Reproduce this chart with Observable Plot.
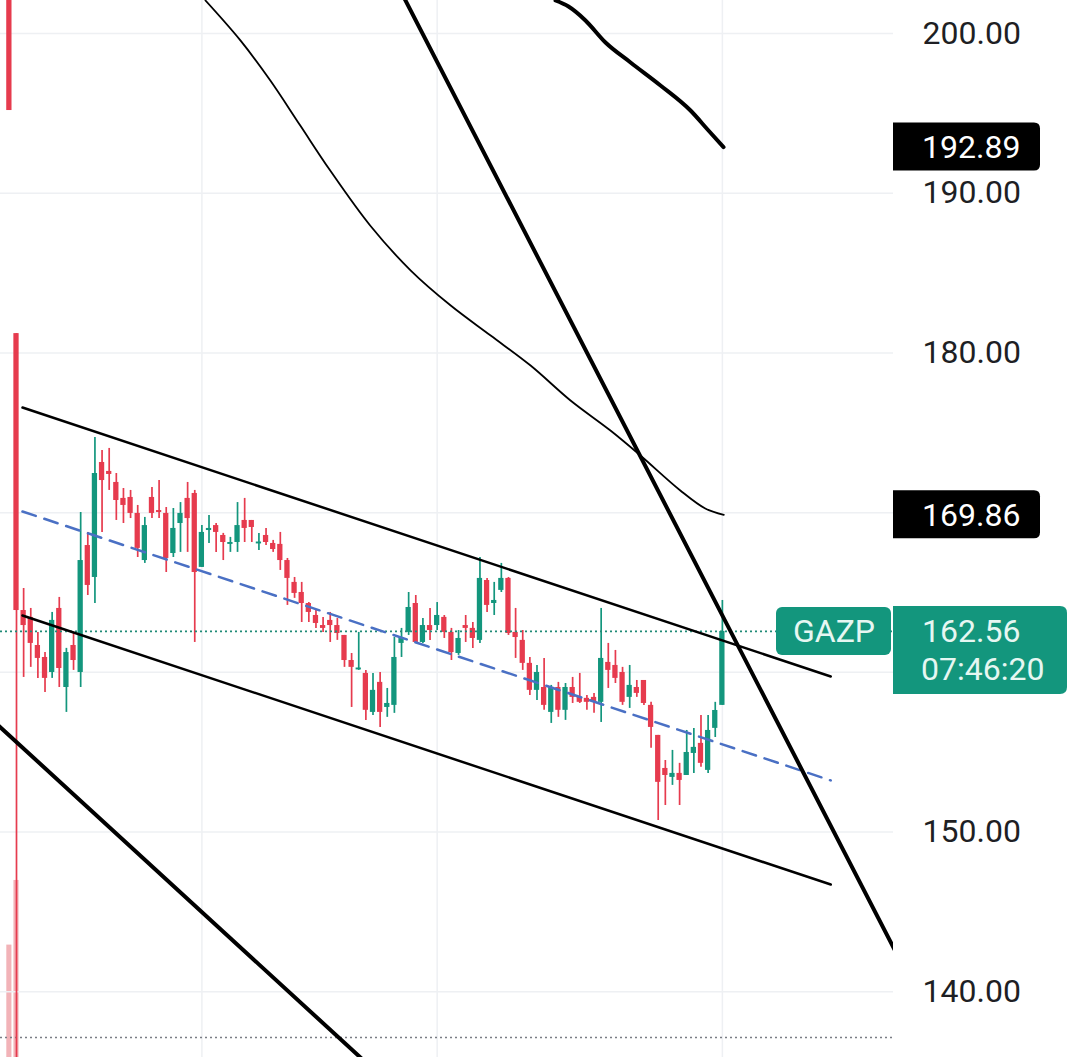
<!DOCTYPE html>
<html><head><meta charset="utf-8">
<script src="https://cdn.jsdelivr.net/npm/d3@7"></script>
<script src="https://cdn.jsdelivr.net/npm/@observablehq/plot@0.6"></script>
<style>
html,body{margin:0;padding:0;background:#fff;}
#chart{width:1080px;height:1057px;overflow:hidden;position:relative;}
</style></head><body><div id="chart"></div>
<script>
// ---- Data (GAZP candles, index -1 .. 99) ----
const startIndex = -1;
const opens  = [204.0,181.21,163.87,163.44,161.68,160.93,159.99,164.00,159.05,161.68,159.99,167.94,165.94,173.14,172.58,171.89,170.89,170.95,169.95,167.00,170.95,170.13,169.95,167.44,169.32,170.89,171.20,166.57,168.88,169.19,168.57,168.01,168.13,169.51,169.51,168.07,168.57,168.07,168.01,167.00,165.63,165.00,164.31,163.56,162.93,163.25,162.93,162.31,160.74,160.18,159.93,157.49,159.37,157.80,157.93,161.81,162.50,164.31,161.87,162.93,162.93,163.44,162.50,161.18,162.93,162.75,162.00,165.75,164.31,165.13,165.88,162.50,162.00,160.56,158.87,159.05,157.49,159.05,157.62,159.05,158.43,158.37,158.43,158.12,160.62,160.43,159.99,158.43,159.05,159.49,157.93,156.05,153.98,153.42,153.67,153.54,154.92,155.55,153.86,156.49,157.93];
const highs  = [205.0,181.21,165.25,164.00,162.50,161.24,163.75,164.69,161.50,162.50,170.01,168.76,174.70,173.89,174.02,172.45,171.51,171.39,170.45,169.70,171.57,172.01,170.32,170.26,170.63,171.89,171.39,169.19,169.82,169.32,168.70,168.45,170.63,170.89,169.51,168.70,169.01,168.26,168.76,167.13,165.94,165.63,164.37,163.87,163.44,163.75,163.37,162.31,161.18,162.50,160.12,159.93,159.99,158.99,162.18,162.75,165.00,164.81,163.37,164.00,164.37,163.56,162.75,162.62,163.56,163.12,167.19,165.88,165.63,166.82,165.94,164.00,162.62,160.93,160.43,160.87,159.18,159.37,159.30,159.68,159.93,158.55,158.68,164.00,161.81,161.37,160.31,160.43,159.49,159.49,158.12,156.05,154.48,155.11,154.30,156.36,156.49,157.30,157.30,158.12,164.50];
const lows   = [195.18,135.0,159.68,160.31,159.62,158.74,159.62,159.05,157.49,160.12,159.05,164.81,164.31,168.76,171.39,169.51,169.32,169.63,167.19,166.82,169.63,169.63,166.25,167.19,167.51,167.51,161.87,166.57,168.07,167.51,167.00,167.51,167.51,168.13,168.13,167.63,167.94,167.51,166.38,164.19,164.63,163.12,163.12,162.75,162.50,161.87,162.00,160.31,157.80,160.12,156.99,157.30,156.55,157.18,157.43,160.93,162.31,161.87,161.81,162.00,162.62,162.12,160.74,161.06,161.87,161.49,161.81,163.75,163.56,165.00,162.31,160.87,160.12,158.55,158.24,157.62,156.80,157.18,156.99,158.05,158.05,157.62,157.43,156.86,158.99,159.30,157.93,157.74,158.43,157.93,155.24,150.72,151.66,152.92,151.66,153.54,153.67,154.05,153.67,155.92,157.93];
const closes = [195.18,163.87,162.93,161.81,160.87,159.62,163.25,160.24,161.24,160.74,167.00,165.44,172.45,172.01,172.39,170.76,170.45,169.95,167.76,169.19,169.95,170.01,167.13,169.01,169.95,169.63,166.25,168.76,169.01,168.76,168.13,168.13,169.19,169.01,169.07,168.13,168.13,167.69,167.00,165.88,164.94,164.31,163.75,163.06,162.75,162.93,162.43,160.74,160.31,160.24,157.62,158.87,157.49,158.05,160.93,162.18,164.06,161.87,162.93,162.62,163.56,162.50,161.24,162.12,162.75,162.12,165.88,164.19,164.50,165.88,162.43,162.18,160.56,158.87,159.99,157.93,159.05,157.62,159.05,158.43,158.12,158.12,158.12,160.87,160.12,159.62,158.12,159.18,158.68,158.05,156.55,153.11,153.54,153.67,153.23,154.98,155.30,154.30,156.36,157.61,162.56];

// Volume (millions), only first two visible
const volIndex = [-1, 0];
const volumes  = [40, 63];

// Price grid and axis labels (160 and 170 are covered by the price labels)
const gridTicks = [140, 150, 160, 170, 180, 190, 200];
const labelTicks = [140, 150, 180, 190, 200];
const timeGrid = [26, 59, 99];

// Drawings (index, price)
const channelTop    = [[0.84, 176.58], [114.2, 159.74]];
const channelMid    = [[0.84, 170.07], [114.2, 153.23]];
const channelBottom = [[0.84, 163.56], [114.2, 146.71]];
const steepLine     = [[50.0, 206.02], [125.0, 141.03]];
const lowerLeftLine = [[-3.0, 156.86], [50.0, 135.16]];
const thinCurve = [[26.5,202.07],[31.4,199.57],[35.6,197.06],[39.8,194.24],[44.0,191.42],[49.6,187.98],[55.3,185.16],[60.9,182.97],[66.5,181.09],[72.1,179.21],[77.7,177.02],[83.3,175.14],[87.5,173.58],[93.1,171.39],[96.6,170.26],[99.2,169.86]];
const thickCurve = [[75.60,202.07],[77.42,201.69],[79.80,200.82],[82.61,199.44],[86.12,198.19],[90.32,196.75],[94.53,195.18],[97.05,193.93],[99.16,192.89]];

// Labels
const symbol = "GAZP";
const lastPrice = 162.56;
const countdown = "07:46:20";
const levelLabels = [192.89, 169.86];
const bottomLevel = 137.13;

const UP = "#13967d", DOWN = "#e63b4e";
const candles = opens.map((o, k) => ({i: startIndex + k, o, h: highs[k], l: lows[k], c: closes[k]}));
candles.forEach(d => {
  const lo = Math.min(d.o, d.c), hi = Math.max(d.o, d.c);
  if (hi - lo < 0.12) { const m = (hi + lo) / 2; d.b1 = m - 0.06; d.b2 = m + 0.06; }
  else { d.b1 = lo; d.b2 = hi; }
  d.col = d.c >= d.o ? UP : DOWN;
});
const yMin = 135.88, yMax = 202.07;
const volMax = d3.max(volumes);
const vols = volIndex.map((i, k) => ({i, v: volumes[k]}));

const seg = arr => arr.map(([i, p]) => ({i, p}));

const plot = Plot.plot({
  width: 1080, height: 1057,
  marginLeft: 0, marginRight: 187, marginTop: 0, marginBottom: 0,
  style: {fontFamily: "Roboto, sans-serif", background: "#fff", overflow: "hidden"},
  x: {domain: [-2.244, 123.0], axis: null},
  y: {domain: [yMin, yMax], axis: null},
  marks: [
    Plot.rect(vols, {x1: d => d.i - 0.36, x2: d => d.i + 0.36, y1: yMin, y2: d => yMin + (d.v / volMax) * (yMax - yMin) * 0.1675, fill: "#f2b3b8"}),
    Plot.gridY(gridTicks, {stroke: "#eef0f3", strokeOpacity: 1, strokeWidth: 1.5}),
    Plot.ruleX(timeGrid, {stroke: "#eef0f3", strokeWidth: 1.5}),
    Plot.ruleY([bottomLevel], {stroke: "#7a7d85", strokeWidth: 1.6, strokeDasharray: "2,3"}),
    Plot.ruleX(candles, {x: "i", y1: "l", y2: "h", stroke: "col", strokeWidth: 1.7, clip: true}),
    Plot.rect(candles, {x1: d => d.i - 0.37, x2: d => d.i + 0.37, y1: "b1", y2: "b2", fill: "col", clip: true}),
    Plot.ruleY([lastPrice], {stroke: "#1f8a76", strokeWidth: 1.8, strokeDasharray: "2,3"}),
    Plot.line(seg(channelMid), {x: "i", y: "p", stroke: "#4a70c4", strokeWidth: 2.5, strokeDasharray: "14,9"}),
    Plot.line(seg(channelTop), {x: "i", y: "p", stroke: "#000", strokeWidth: 2.5}),
    Plot.line(seg(channelBottom), {x: "i", y: "p", stroke: "#000", strokeWidth: 2.5}),
    Plot.line(seg(steepLine), {x: "i", y: "p", stroke: "#000", strokeWidth: 4, clip: true}),
    Plot.line(seg(lowerLeftLine), {x: "i", y: "p", stroke: "#000", strokeWidth: 4, clip: true}),
    Plot.line(seg(thinCurve), {x: "i", y: "p", stroke: "#000", strokeWidth: 1.8, curve: "catmull-rom", clip: true}),
    Plot.line(seg(thickCurve), {x: "i", y: "p", stroke: "#000", strokeWidth: 4, curve: "monotone-x", clip: true}),
    Plot.axisY(labelTicks, {anchor: "right", tickSize: 0, tickPadding: 29, tickFormat: d => d.toFixed(2), fontSize: 32, fill: "#1e1f24", textAnchor: "start"})
  ]
});
document.getElementById("chart").appendChild(plot);

// Price labels over the axis, positioned through the plot's y scale
const ys = plot.scale("y");
const svg = d3.select(plot);
const g = svg.append("g").attr("font-family", "Roboto, sans-serif").attr("font-size", 32).attr("text-anchor", "start");
const AX = 893;
function rightRounded(x, y, w, h, r) {
  return `M${x},${y}H${x + w - r}Q${x + w},${y} ${x + w},${y + r}V${y + h - r}Q${x + w},${y + h} ${x + w - r},${y + h}H${x}Z`;
}
levelLabels.forEach(v => {
  const yc = ys.apply(v);
  g.append("path").attr("d", rightRounded(AX, yc - 24, 147, 48, 6)).attr("fill", "#000");
  g.append("text").attr("x", 922).attr("y", yc).attr("dy", "0.36em").attr("text-anchor", "start").attr("fill", "#fff").text(v.toFixed(2));
});
const yl = ys.apply(lastPrice);
g.append("path").attr("d", rightRounded(AX, yl - 25, 174, 88, 7)).attr("fill", UP);
g.append("text").attr("x", 922).attr("y", yl).attr("dy", "0.36em").attr("text-anchor", "start").attr("fill", "#e6f7f2").text(lastPrice.toFixed(2));
g.append("text").attr("x", 921).attr("y", yl + 38).attr("dy", "0.36em").attr("text-anchor", "start").attr("fill", "#e6f7f2").text(countdown);
g.append("rect").attr("x", 776).attr("y", yl - 24).attr("width", 115).attr("height", 48).attr("rx", 6).attr("fill", UP);
g.append("text").attr("x", 834).attr("y", yl).attr("dy", "0.36em").attr("text-anchor", "middle").attr("fill", "#e6f7f2").text(symbol);
</script></body></html>
